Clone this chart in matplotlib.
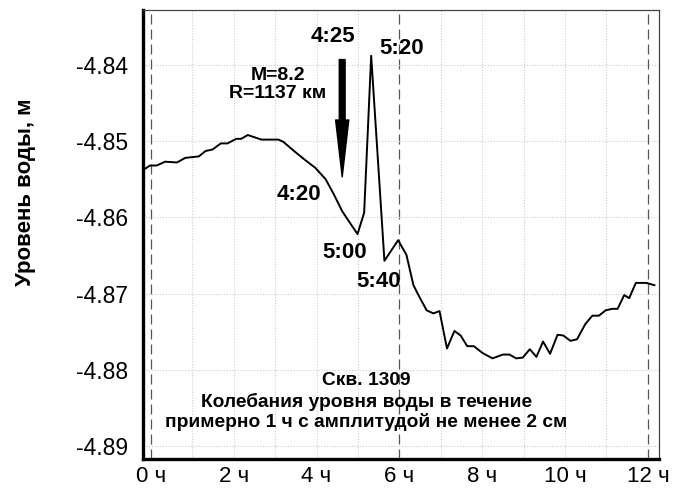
import matplotlib
matplotlib.use('Agg')
import matplotlib.pyplot as plt

# time since start, hours
hours = [-0.19, -0.02, 0.14, 0.345, 0.63, 0.83, 1.16, 1.32, 1.49, 1.69, 1.85,
         2.06, 2.18, 2.34, 2.67, 3.08, 3.20, 3.48, 3.73, 3.97, 4.22, 4.42,
         4.62, 4.99, 5.15, 5.32, 5.64, 5.97, 6.17, 6.34, 6.50, 6.66, 6.82,
         6.97, 7.15, 7.33, 7.48, 7.64, 7.80, 8.01, 8.25, 8.50, 8.66, 8.82,
         8.98, 9.15, 9.31, 9.47, 9.64, 9.82, 9.96, 10.13, 10.29, 10.49,
         10.66, 10.82, 10.98, 11.14, 11.27, 11.43, 11.55, 11.71, 11.96, 12.16]
# water level, m
level = [-4.8538, -4.8532, -4.8532, -4.8527, -4.8528, -4.8522, -4.8520,
         -4.8513, -4.8511, -4.8503, -4.8503, -4.8497, -4.8497, -4.8492,
         -4.8498, -4.8498, -4.8501, -4.8514, -4.8525, -4.8535, -4.8550,
         -4.8570, -4.8592, -4.8622, -4.8594, -4.8388, -4.8657, -4.8630,
         -4.8649, -4.8689, -4.8706, -4.8722, -4.8726, -4.8723, -4.8772,
         -4.8749, -4.8755, -4.8769, -4.8769, -4.8778, -4.8785, -4.8780,
         -4.8780, -4.8785, -4.8784, -4.8773, -4.8783, -4.8763, -4.8779,
         -4.8754, -4.8755, -4.8762, -4.8760, -4.8740, -4.8729, -4.8729,
         -4.8722, -4.8720, -4.8720, -4.8702, -4.8706, -4.8686, -4.8686,
         -4.8689]

x_ticks = [0, 2, 4, 6, 8, 10, 12]
x_labels = ['0 ч', '2 ч', '4 ч', '6 ч', '8 ч', '10 ч', '12 ч']
y_ticks = [-4.84, -4.85, -4.86, -4.87, -4.88, -4.89]
y_labels = ['-4.84', '-4.85', '-4.86', '-4.87', '-4.88', '-4.89']

# (text, hour, level)
time_marks = [('4:25', 4.40, -4.8363), ('5:20', 6.05, -4.8379),
              ('4:20', 3.58, -4.8570), ('5:00', 4.68, -4.8646),
              ('5:40', 5.50, -4.8684)]
quake_text = 'M=8.2\nR=1137 км'
well_text = ['Скв. 1309',
             'Колебания уровня воды в течение',
             'примерно 1 ч с амплитудой не менее 2 см']

plt.rcParams['font.family'] = ['Liberation Sans', 'DejaVu Sans']

fig = plt.figure(figsize=(6.75, 4.91), dpi=100)
ax = fig.add_axes([143 / 675, 1 - 459 / 491, 516 / 675, 449 / 491])

# grid: hourly dotted, dashed at 0, 6, 12 h
for h in range(13):
    if h % 6 == 0:
        ax.axvline(h, color='#555555', lw=0.9, ls=(0, (8, 4)), zorder=1)
    else:
        ax.axvline(h, color='#cccccc', lw=0.8, ls=(0, (1, 1.5)), zorder=1)
for y in y_ticks:
    ax.axhline(y, color='#cccccc', lw=0.8, ls=(0, (1, 1.5)), zorder=1)

ax.plot(hours, level, color='black', lw=1.4, zorder=3)

ax.set_xlim(-0.19, 12.27)
ax.set_ylim(-4.8917, -4.8328)
ax.set_xticks(x_ticks)
ax.set_xticklabels(x_labels)
ax.set_yticks(y_ticks)
ax.set_yticklabels(y_labels)
ax.tick_params(axis='x', length=0, labelsize=16, pad=5)
ax.tick_params(axis='y', length=0, labelsize=16.5, pad=11)

for s in ['left', 'bottom']:
    ax.spines[s].set_linewidth(2.4)
    ax.spines[s].set_color('black')
for s in ['top', 'right']:
    ax.spines[s].set_linewidth(0.9)
    ax.spines[s].set_color('#444444')

ax.set_ylabel('Уровень воды, м', fontsize=16, fontweight='bold')
ax.yaxis.set_label_coords(-0.208, 0.595)

for txt, h, v in time_marks:
    ax.text(h, v, txt, fontsize=16, fontweight='bold', ha='center', va='center', zorder=4)

ax.text(3.06, -4.8426, quake_text, fontsize=14, fontweight='bold', ha='center',
        va='center', linespacing=1.1, zorder=4)

# earthquake arrow
ax.annotate('', xy=(4.62, -4.8547), xytext=(4.62, -4.8393),
            arrowprops=dict(arrowstyle='simple,head_length=4.1,head_width=0.95,tail_width=0.42',
                            mutation_scale=10, color='black', shrinkA=0, shrinkB=0), zorder=4)

for txt, v in zip(well_text, [-4.8814, -4.8842, -4.8868]):
    ax.text(5.2, v, txt, fontsize=13.8, fontweight='bold', ha='center', va='center', zorder=4)

fig.savefig('out.png', dpi=100)
